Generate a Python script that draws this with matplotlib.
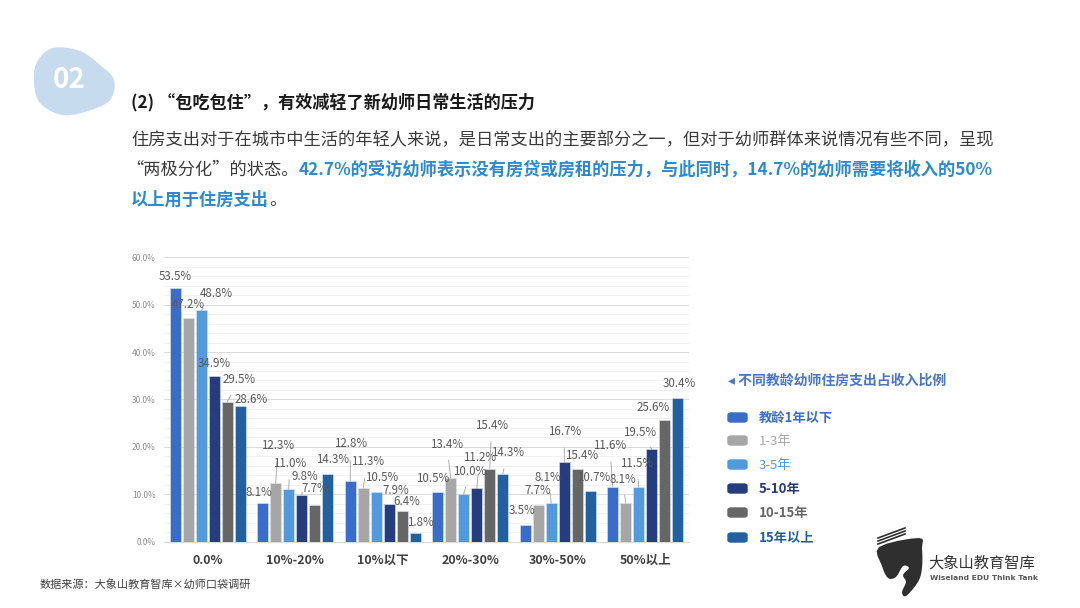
import numpy as np
import matplotlib
matplotlib.use("Agg")
import matplotlib.pyplot as plt
from matplotlib.patches import FancyBboxPatch, Polygon

plt.rcParams['font.family'] = ['Noto Sans CJK SC', 'DejaVu Sans']

# data
categories = ["0.0%", "10%-20%", "10%以下", "20%-30%", "30%-50%", "50%以上"]
series_names = ["教龄1年以下", "1-3年", "3-5年", "5-10年", "10-15年", "15年以上"]
s_lt1 = [53.5, 8.1, 12.8, 10.5, 3.5, 11.6]
s_1_3 = [47.2, 12.3, 11.3, 13.4, 7.7, 8.1]
s_3_5 = [48.8, 11.0, 10.5, 10.0, 8.1, 11.5]
s_5_10 = [34.9, 9.8, 7.9, 11.2, 16.7, 19.5]
s_10_15 = [29.5, 7.7, 6.4, 15.4, 15.4, 25.6]
s_gt15 = [28.6, 14.3, 1.8, 14.3, 10.7, 30.4]
series = [s_lt1, s_1_3, s_3_5, s_5_10, s_10_15, s_gt15]

colors = ["#3a6cc9", "#a6a6a6", "#529ade", "#253d7e", "#666666", "#23609f"]
legend_weights = ["bold", "normal", "normal", "bold", "bold", "bold"]

# label offsets in pixels (dx, dy) per series / category, imitating excel best-fit
label_off = [
    [(0, 12), (-4, 11), (0, 37), (-5, 13), (-3, 14), (-3, 41)],
    [(0, 13), (2, 38), (4, 26), (-4, 34), (0, 15), (-3, 24)],
    [(15, 17), (1, 26), (5, 14), (6, 23), (-3, 26), (-2, 24)],
    [(0, 13), (3, 19), (7, 14), (3, 31), (0, 31), (-12, 17)],
    [(12, 22), (0, 17), (5, 10), (2, 43), (4, 13), (-12, 13)],
    [(11, 7), (5, 14), (5, 10), (5, 21), (3, 13), (2, 14)],
]

W, H = 1080, 608
fig = plt.figure(figsize=(W / 100, H / 100), dpi=100)
fig.patch.set_facecolor("white")


def px(x, y):
    return x / W, 1 - y / H


def smooth_closed(pts, k=12):
    # catmull-rom through the points, closed
    p = np.array(pts, dtype=float)
    m = len(p)
    out = []
    for i in range(m):
        p0, p1, p2, p3 = p[i - 1], p[i], p[(i + 1) % m], p[(i + 2) % m]
        for t in np.linspace(0, 1, k, endpoint=False):
            t2, t3 = t * t, t * t * t
            out.append(0.5 * ((2 * p1) + (-p0 + p2) * t + (2 * p0 - 5 * p1 + 4 * p2 - p3) * t2
                              + (-p0 + 3 * p1 - 3 * p2 + p3) * t3))
    return [px(a, b) for a, b in out]


ax = fig.add_axes([164 / W, 1 - 541.5 / H, 525 / W, 284.2 / H])
n = len(series)
step = 0.1486
width = 0.126
x = np.arange(len(categories))
for i, vals in enumerate(series):
    xs = x + (i - (n - 1) / 2) * step
    ax.bar(xs, vals, width, color=colors[i], edgecolor="#dfe6ef", linewidth=0.4, zorder=3)
    for j, v in enumerate(vals):
        dx, dy = label_off[i][j]
        lead = None
        if np.hypot(dx, dy) > 18:
            lead = dict(arrowstyle="-", color="#a0a0a0", lw=0.6, shrinkA=5, shrinkB=0)
        ax.annotate(f"{v:.1f}%", (xs[j], v), xytext=(dx, dy), textcoords="offset pixels",
                    ha="center", va="center", fontsize=8.3, color="#595959",
                    arrowprops=lead, zorder=4)

ax.set_xlim(-0.5, 5.5)
ax.set_ylim(0, 60)
ax.set_yticks(np.arange(0, 61, 10))
ax.set_yticks(np.arange(0, 61, 2), minor=True)
ax.set_yticklabels([f"{t:.1f}%" for t in np.arange(0, 61, 10)], fontsize=6, color="#8c8c8c")
ax.grid(axis="y", which="major", color="#d9d9d9", lw=0.7, zorder=0)
ax.grid(axis="y", which="minor", color="#efefef", lw=0.6, zorder=0)
ax.set_xticks(x)
ax.set_xticklabels(categories, fontsize=9, fontweight="bold", color="#404040")
ax.tick_params(axis="both", which="both", length=0)
ax.tick_params(axis="x", pad=9)
ax.tick_params(axis="y", pad=6)
for s in ["top", "right", "left"]:
    ax.spines[s].set_visible(False)
ax.spines["bottom"].set_color("#d9d9d9")

# legend
fig.text(*px(728, 381), "◂ 不同教龄幼师住房支出占收入比例", fontsize=10, fontweight="bold",
         color="#4a76c9", va="center", ha="left")
leg_y = [418, 441, 465, 489, 513, 538]
for name, c, wt, yy in zip(series_names, colors, legend_weights, leg_y):
    fig.patches.append(FancyBboxPatch(px(728, yy + 4), 19 / W, 9 / H,
                                      boxstyle="round,pad=0,rounding_size=0.003",
                                      transform=fig.transFigure, color=c))
    fig.text(*px(759, yy), name, fontsize=9.5, fontweight=wt, color=c, va="center", ha="left")

# badge "02"
blob = [(37, 62), (53, 48), (80, 51), (100, 65), (114, 80), (110, 100), (88, 111),
        (62, 115), (40, 103), (34, 82)]
fig.patches.append(Polygon(smooth_closed(blob), closed=True, transform=fig.transFigure,
                           color="#c7dbef", lw=0))
fig.text(*px(69, 80), "02", fontsize=20, fontweight="bold", color="white", ha="center", va="center")

# heading and paragraph
fig.text(*px(131, 102), "(2) “包吃包住”，有效减轻了新幼师日常生活的压力", fontsize=12.3,
         fontweight="bold", color="#1a1a1a", va="center", ha="left")

renderer = fig.canvas.get_renderer()


def draw_runs(x0, y0, runs):
    xf, yf = px(x0, y0)
    for txt, bold, col in runs:
        t = fig.text(xf, yf, txt, fontsize=12.4, fontweight="bold" if bold else "normal",
                     color=col, va="center", ha="left")
        bb = t.get_window_extent(renderer=renderer)
        xf += bb.width / W


dark = "#3a3a3a"
blue = "#2e8ad0"
draw_runs(131, 140, [("住房支出对于在城市中生活的年轻人来说，是日常支出的主要部分之一，但对于幼师群体来说情况有些不同，呈现", False, dark)])
draw_runs(126, 170, [("“两极分化”的状态。", False, dark),
                     ("42.7%的受访幼师表示没有房贷或房租的压力，与此同时，14.7%的幼师需要将收入的50%", True, blue)])
draw_runs(131, 200, [("以上用于住房支出", True, blue), ("。", False, dark)])

# source
fig.text(*px(40, 585), "数据来源：大象山教育智库×幼师口袋调研", fontsize=8, color="#404040", va="center")

# logo
icon = [(879, 547), (919, 538), (922, 548), (922, 568), (918, 582), (906, 596), (902, 592),
        (906, 582), (903, 575), (909, 568), (903, 566), (896, 577), (888, 578), (882, 566)]
fig.patches.append(Polygon(smooth_closed(icon, k=4), closed=True, transform=fig.transFigure,
                           color="#2f2f2f", lw=0))
for k in range(3):
    fig.add_artist(plt.Line2D([px(878, 544 - 3 * k)[0], px(905, 534 - 3 * k)[0]],
                              [px(878, 544 - 3 * k)[1], px(905, 534 - 3 * k)[1]],
                              transform=fig.transFigure, color="#2f2f2f", lw=1.2))
fig.text(*px(928, 563), "大象山教育智库", fontsize=11, color="#333333", va="center")
fig.text(*px(930, 578), "Wiseland EDU Think Tank", fontsize=5.4, fontweight="bold",
         color="#555555", va="center", family=["DejaVu Sans"])

fig.savefig("out.png", dpi=100)
